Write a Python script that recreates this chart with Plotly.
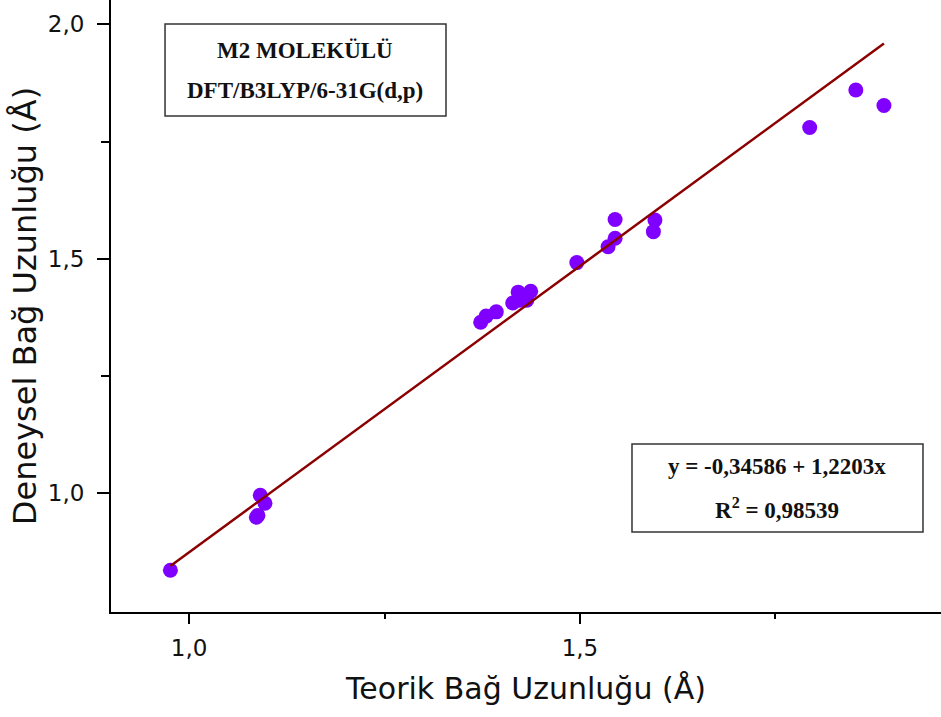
import plotly.graph_objects as go

# Theoretical (x) vs experimental (y) bond lengths, in Å
teorik = [0.976, 1.091, 1.097, 1.086, 1.088,
          1.373, 1.380, 1.393, 1.414, 1.421, 1.423, 1.432, 1.437,
          1.496, 1.545, 1.545, 1.536, 1.596, 1.594,
          1.794, 1.853, 1.889]
deneysel = [0.836, 0.996, 0.979, 0.949, 0.953,
            1.365, 1.378, 1.387, 1.406, 1.429, 1.412, 1.412, 1.431,
            1.492, 1.584, 1.544, 1.526, 1.583, 1.558,
            1.780, 1.860, 1.827]

# Linear fit reported on the chart
intercept = -0.34586
slope = 1.2203
r2 = 0.98539

x_ticks = [1.0, 1.5]
x_ticktext = ["1,0", "1,5"]
y_ticks = [1.0, 1.5, 2.0]
y_ticktext = ["1,0", "1,5", "2,0"]
x_minor = [1.25, 1.75]
y_minor = [1.25, 1.75]


def fmt(v, nd):
    return f"{v:.{nd}f}".replace(".", ",")


fit_x = [min(teorik), max(teorik)]
fit_y = [intercept + slope * v for v in fit_x]

fig = go.Figure()
fig.add_trace(go.Scatter(
    x=teorik, y=deneysel, mode="markers",
    marker=dict(size=15, color="#7F00FF", line=dict(width=0)),
    showlegend=False, hoverinfo="x+y"))
fig.add_trace(go.Scatter(
    x=fit_x, y=fit_y, mode="lines",
    line=dict(color="#8B0000", width=2.5),
    showlegend=False))

axis_font = dict(family="DejaVu Sans", size=23, color="#111111")

fig.update_xaxes(
    range=[0.900, 1.962],
    tickmode="array", tickvals=x_ticks, ticktext=x_ticktext,
    ticks="outside", ticklen=10, tickwidth=2, tickcolor="black",
    minor=dict(tickmode="array", tickvals=x_minor, ticks="outside",
               ticklen=5, tickwidth=2, tickcolor="black"),
    showline=True, linecolor="black", linewidth=2,
    showgrid=False, zeroline=False,
    tickfont=axis_font, ticklabelstandoff=4,
    title=dict(text="Teorik Bağ Uzunluğu (Å)",
               font=dict(family="DejaVu Sans", size=30, color="#111111"),
               standoff=18),
)
fig.update_yaxes(
    range=[0.747, 2.052],
    tickmode="array", tickvals=y_ticks, ticktext=y_ticktext,
    ticks="outside", ticklen=12, tickwidth=2, tickcolor="black",
    minor=dict(tickmode="array", tickvals=y_minor, ticks="outside",
               ticklen=8, tickwidth=2, tickcolor="black"),
    showline=True, linecolor="black", linewidth=2,
    showgrid=False, zeroline=False,
    tickfont=axis_font, ticklabelstandoff=8,
    title=dict(text="Deneysel Bağ Uzunluğu (Å)",
               font=dict(family="DejaVu Sans", size=32, color="#111111"),
               standoff=2),
)

box_font = dict(family="Liberation Serif", size=23, color="#111111")
box_line = dict(color="#333333", width=1.5)

# Molecule / method label box
fig.add_shape(type="rect", xref="paper", yref="paper",
              x0=0.0651, x1=0.4036, y0=0.8105, y1=0.9608,
              line=box_line, fillcolor="white", layer="above")
fig.add_annotation(xref="paper", yref="paper", x=0.2343, y=0.9183,
                   text="<b>M2 MOLEKÜLÜ</b>", showarrow=False,
                   font=box_font, xanchor="center", yanchor="middle")
fig.add_annotation(xref="paper", yref="paper", x=0.2343, y=0.8529,
                   text="<b>DFT/B3LYP/6-31G(d,p)</b>", showarrow=False,
                   font=box_font, xanchor="center", yanchor="middle")

# Fit equation box
sign = "-" if intercept < 0 else ""
eq_text = f"<b>y = {sign}{fmt(abs(intercept), 5)} + {fmt(slope, 4)}x</b>"
r2_text = f"<b>R<sup>2</sup> = {fmt(r2, 5)}</b>"
fig.add_shape(type="rect", xref="paper", yref="paper",
              x0=0.6277, x1=0.9783, y0=0.1307, y1=0.2745,
              line=box_line, fillcolor="white", layer="above")
fig.add_annotation(xref="paper", yref="paper", x=0.8030, y=0.2374,
                   text=eq_text, showarrow=False,
                   font=box_font, xanchor="center", yanchor="middle")
fig.add_annotation(xref="paper", yref="paper", x=0.8030, y=0.1694,
                   text=r2_text, showarrow=False,
                   font=box_font, xanchor="center", yanchor="middle")

fig.update_layout(
    width=941, height=717,
    margin=dict(l=111, r=0, t=0, b=105),
    paper_bgcolor="white", plot_bgcolor="white",
)

fig.write_html("out.html")
